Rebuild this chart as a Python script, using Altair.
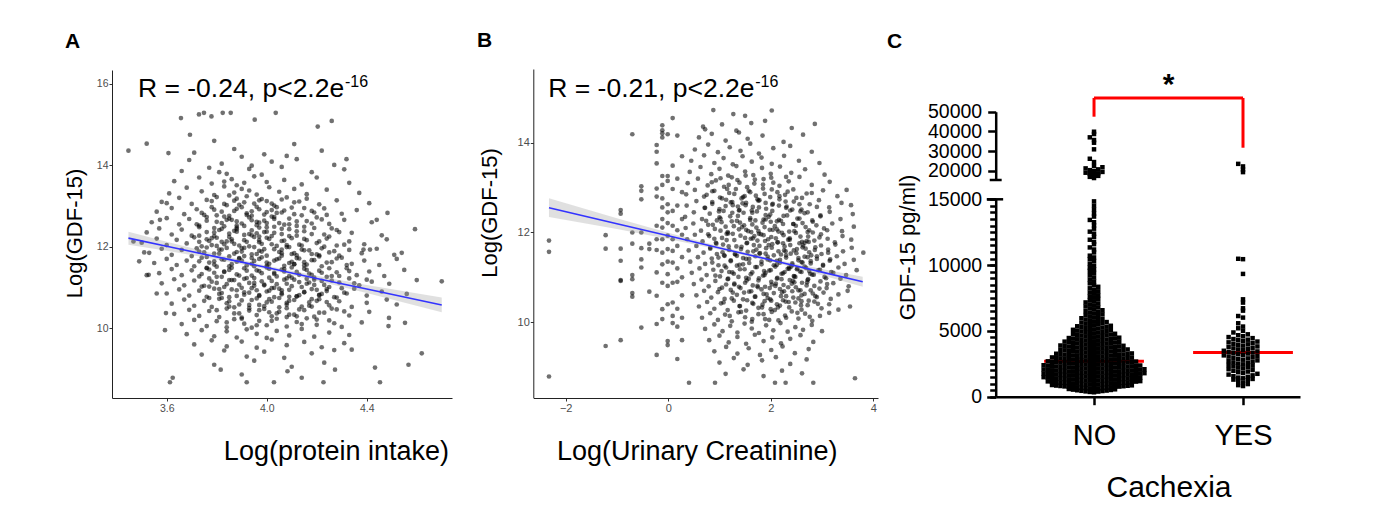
import altair as alt
import pandas as pd

FONT = "Liberation Sans"

# ---------------- Panel A : Log(protein intake) vs Log(GDF-15) ----------------
a_edge = [(3.447,14.36),(3.52,14.53),(3.613,8.67),(3.624,8.78),(3.657,15.16),(3.729,15.25),(3.749,15.29),
          (3.779,15.2),(3.824,15.29),(3.856,15.29),(3.952,15.12),(4.036,15.29),(4.204,14.95),(4.26,15.09),
          (4.319,14.15),(4.12,14.15),(4.593,12.43),(4.54,11.85),(4.70,11.15),(4.62,9.38),(4.567,9.1),
          (4.453,8.67),(4.433,9.03),(4.489,10.25),(4.487,10.05),(4.553,10.13),(4.52,10.58),(4.483,12.83),
          (4.44,12.66),(4.387,11.93),(4.413,11.93),(4.4,11.19),(3.593,9.95),(3.597,10.37),(3.56,10.85),
          (3.528,11.31),(3.51,11.86),(3.467,12.13),(3.573,12.66),(3.6,13.07),(3.607,14.3),(3.693,14.75),
          (3.816,8.98),(3.9,8.86),(3.92,8.67),(4.029,8.67),(4.083,8.94),(4.14,8.78),(4.227,8.67),
          (4.273,8.98),(4.34,9.47)]
a_hi = [(3.79,14.6),(4.11,14.52),(3.71,14.31),(3.87,14.4),(3.99,14.27),(4.22,14.36),
        (3.69,14.13),(3.82,14.04),(3.9,14.21),(4.02,14.09),(4.08,14.23),(4.27,14.01),(3.94,13.99),
        (3.66,13.86),(3.77,13.94),(3.84,13.79),(3.93,13.91),(3.98,13.77),(4.06,13.96),(4.18,13.83),(4.31,13.9),(3.81,13.83),
        (3.63,13.61),(3.73,13.7),(3.78,13.55),(3.86,13.66),(3.88,13.51),(3.95,13.73),(4.0,13.59),(4.07,13.64),
        (4.14,13.53),(4.2,13.7),(4.33,13.57),(3.83,13.6),(3.91,13.57),
        (3.61,13.31),(3.68,13.45),(3.74,13.36),(3.79,13.27),(3.83,13.48),(3.87,13.33),(3.9,13.42),(3.96,13.28),
        (4.01,13.46),(4.05,13.35),(4.11,13.42),(4.16,13.29),(4.24,13.4),(4.37,13.32),(3.93,13.38),(3.85,13.26),
        (3.58,13.1),(3.65,13.2),(3.7,13.05),(3.76,13.15),(3.8,13.22),(3.84,13.02),(3.87,13.13),(3.92,13.24),
        (3.95,13.06),(3.98,13.17),(4.03,13.01),(4.08,13.21),(4.11,13.09),(4.16,13.18),(4.21,13.04),(4.28,13.14),
        (4.41,13.07),(3.89,13.03),(4.0,13.12),
        (3.56,12.86),(3.62,12.95),(3.67,12.8),(3.72,12.92),(3.75,12.78),(3.78,12.97),(3.82,12.86),(3.85,12.76),
        (3.88,12.93),(3.92,12.82),(3.96,12.98),(3.99,12.79),(4.02,12.9),(4.06,12.84),(4.1,12.96),(4.14,12.77),
        (4.18,12.88),(4.23,12.94),(4.3,12.81),(4.36,12.9),(3.94,12.87),(3.8,12.77),(4.04,12.97),
        (3.54,12.6),(3.6,12.7),(3.65,12.55),(3.69,12.68),(3.73,12.52),(3.76,12.73),(3.8,12.61),(3.83,12.5),
        (3.86,12.66),(3.9,12.57),(3.93,12.72),(3.96,12.53),(3.99,12.64),(4.02,12.74),(4.05,12.58),(4.09,12.69),
        (4.12,12.51),(4.16,12.63),(4.2,12.72),(4.25,12.56),(4.31,12.66),(4.42,12.6),(3.88,12.62),(3.97,12.59),(4.07,12.54)]
a_mid = [(3.52,12.35),(3.57,12.45),(3.62,12.3),(3.66,12.42),(3.7,12.27),(3.73,12.48),(3.76,12.36),(3.79,12.26),
         (3.82,12.44),(3.85,12.32),(3.88,12.47),(3.91,12.29),(3.94,12.4),(3.97,12.25),(4.0,12.37),(4.03,12.49),
         (4.06,12.31),(4.09,12.43),(4.12,12.27),(4.15,12.38),(4.19,12.46),(4.23,12.3),(4.28,12.41),(4.34,12.34),
         (4.46,12.28),(3.87,12.39),(3.96,12.33),
         (3.5,12.1),(3.56,12.2),(3.6,12.04),(3.64,12.17),(3.68,12.08),(3.71,12.23),(3.74,12.01),(3.77,12.14),
         (3.8,12.22),(3.83,12.06),(3.86,12.18),(3.89,12.03),(3.92,12.12),(3.95,12.24),(3.98,12.07),(4.01,12.19),
         (4.04,12.02),(4.07,12.15),(4.1,12.21),(4.13,12.05),(4.16,12.16),(4.2,12.09),(4.24,12.2),(4.28,12.03),
         (4.33,12.13),(4.39,12.06),(4.48,12.18),(3.84,12.13),(3.97,12.16),
         (3.53,11.85),(3.58,11.95),(3.62,11.8),(3.66,11.92),(3.7,11.77),(3.73,11.88),(3.76,11.98),(3.79,11.83),
         (3.82,11.93),(3.85,11.76),(3.88,11.87),(3.91,11.97),(3.94,11.81),(3.97,11.9),(4.0,11.78),(4.03,11.94),
         (4.06,11.84),(4.09,11.99),(4.12,11.79),(4.15,11.91),(4.18,11.82),(4.22,11.96),(4.25,11.86),(4.29,11.78),
         (4.33,11.92),(4.38,11.84),(4.44,11.95),(4.51,11.8),
         (3.55,11.6),(3.6,11.7),(3.64,11.55),(3.68,11.66),(3.71,11.52),(3.74,11.73),(3.77,11.61),(3.8,11.51),
         (3.83,11.68),(3.86,11.57),(3.89,11.72),(3.92,11.54),(3.95,11.65),(3.98,11.74),(4.01,11.58),(4.04,11.69),
         (4.07,11.53),(4.1,11.63),(4.13,11.71),(4.16,11.56),(4.19,11.67),(4.22,11.52),(4.26,11.62),(4.3,11.73),
         (4.34,11.58),(4.39,11.66),(4.45,11.55),(4.52,11.7),(3.49,11.64),
         (3.57,11.35),(3.62,11.45),(3.66,11.3),(3.7,11.42),(3.73,11.27),(3.76,11.48),(3.79,11.36),(3.82,11.26),
         (3.85,11.43),(3.88,11.32),(3.91,11.47),(3.94,11.29),(3.97,11.4),(4.0,11.49),(4.03,11.33),(4.06,11.44),
         (4.09,11.28),(4.12,11.38),(4.15,11.46),(4.18,11.31),(4.21,11.41),(4.24,11.26),(4.28,11.37),(4.32,11.47),
         (4.36,11.3),(4.41,11.39),(4.47,11.28),(4.55,11.43),(3.52,11.3),
         (3.58,11.1),(3.63,11.2),(3.67,11.05),(3.71,11.17),(3.74,11.02),(3.77,11.22),(3.8,11.11),(3.83,11.01),
         (3.86,11.18),(3.89,11.07),(3.92,11.23),(3.95,11.04),(3.98,11.15),(4.01,11.24),(4.04,11.08),(4.07,11.19),
         (4.1,11.03),(4.13,11.13),(4.16,11.21),(4.19,11.06),(4.22,11.16),(4.25,11.01),(4.29,11.12),(4.33,11.22),
         (4.37,11.05),(4.42,11.14),(4.49,11.09),(4.6,11.18)]
a_lo = [(3.6,10.85),(3.65,10.95),(3.69,10.8),(3.73,10.92),(3.76,10.77),(3.79,10.97),(3.82,10.86),(3.85,10.76),
        (3.88,10.93),(3.91,10.82),(3.94,10.98),(3.97,10.79),(4.0,10.9),(4.03,10.99),(4.06,10.83),(4.09,10.94),
        (4.12,10.78),(4.15,10.88),(4.18,10.96),(4.21,10.81),(4.24,10.91),(4.27,10.76),(4.31,10.87),(4.35,10.97),
        (4.4,10.8),(4.46,10.9),(4.56,10.84),
        (3.62,10.6),(3.67,10.7),(3.71,10.55),(3.75,10.67),(3.78,10.52),(3.81,10.72),(3.84,10.61),(3.87,10.51),
        (3.9,10.68),(3.93,10.57),(3.96,10.73),(3.99,10.54),(4.02,10.65),(4.05,10.74),(4.08,10.58),(4.11,10.69),
        (4.14,10.53),(4.17,10.63),(4.21,10.71),(4.25,10.56),(4.29,10.66),(4.34,10.52),(4.4,10.62),(4.48,10.7),
        (3.63,10.35),(3.69,10.45),(3.73,10.3),(3.77,10.42),(3.81,10.27),(3.84,10.48),(3.87,10.36),(3.9,10.26),
        (3.93,10.43),(3.96,10.32),(3.99,10.47),(4.02,10.29),(4.05,10.4),(4.08,10.49),(4.11,10.33),(4.15,10.44),
        (4.19,10.28),(4.23,10.38),(4.28,10.46),(4.33,10.31),(4.41,10.4),
        (3.66,10.1),(3.71,10.2),(3.76,10.05),(3.8,10.17),(3.84,10.02),(3.87,10.22),(3.91,10.11),(3.94,10.01),
        (3.97,10.18),(4.0,10.07),(4.04,10.23),(4.08,10.04),(4.12,10.15),(4.16,10.24),(4.2,10.08),(4.25,10.19),
        (4.3,10.03),(4.38,10.14),
        (3.68,9.85),(3.74,9.95),(3.79,9.8),(3.84,9.92),(3.88,9.77),(3.92,9.97),(3.96,9.86),(4.0,9.76),
        (4.04,9.93),(4.09,9.82),(4.14,9.98),(4.19,9.79),(4.25,9.89),(4.33,9.83),
        (3.71,9.6),(3.78,9.7),(3.84,9.55),(3.9,9.67),(3.96,9.52),(4.02,9.72),(4.08,9.58),(4.15,9.66),(4.22,9.53),(4.31,9.63),
        (3.74,9.35),(3.83,9.45),(3.92,9.3),(3.99,9.42),(4.07,9.27),(4.18,9.38),(4.27,9.46),
        (3.79,9.1),(3.95,9.2),(4.1,9.05),(4.23,9.15)]
a_dense = [(3.81,12.41),(3.86,12.13),(3.9,11.96),(3.93,12.31),(3.98,11.88),(4.02,12.26),(4.05,11.71),(4.08,12.04),
           (4.11,11.57),(4.14,11.93),(4.17,11.34),(4.21,11.76),(3.79,11.64),(3.83,11.39),(3.87,11.83),(3.91,11.21),
           (3.95,11.52),(3.99,11.07),(4.03,11.36),(4.06,10.93),(4.1,11.24),(4.13,10.81),(4.16,11.09),(4.2,10.67),
           (4.24,10.96),(3.77,11.02),(3.82,10.74),(3.85,11.18),(3.89,10.58),(3.93,10.87),(3.97,10.44),(4.01,10.71),
           (4.04,10.36),(4.08,10.62),(4.12,10.29),(4.18,10.53),(3.84,12.66),(3.88,12.52),(3.92,12.78),(3.96,12.61),
           (4.0,12.48),(4.04,12.83),(3.8,12.02),(3.94,11.72),(4.0,11.61),(4.07,11.45),(4.15,11.62),(4.19,11.19),
           (3.76,11.47),(3.81,11.93),(3.95,11.11),(4.02,10.98),(4.09,10.77),(4.22,10.84),(3.86,10.95),(3.9,11.66),
           (4.1,11.82),(4.26,11.28),(3.73,12.12),(3.99,12.36)]
a_core = [(3.78,13.12),(3.83,13.05),(3.88,13.18),(3.91,13.09),(3.97,13.14),(4.02,13.06),(4.06,13.16),(4.13,13.11),
          (3.74,12.83),(3.79,12.91),(3.83,12.74),(3.87,12.88),(3.9,12.97),(3.94,12.76),(3.97,12.92),(4.0,12.85),
          (4.03,12.73),(4.07,12.89),(4.11,12.8),(4.15,12.95),(4.19,12.84),(4.24,12.78),
          (3.72,12.55),(3.76,12.64),(3.79,12.46),(3.82,12.58),(3.85,12.69),(3.88,12.43),(3.91,12.51),(3.94,12.65),
          (3.97,12.47),(4.0,12.58),(4.03,12.68),(4.06,12.44),(4.09,12.55),(4.12,12.62),(4.15,12.49),(4.18,12.57),
          (4.22,12.67),(4.26,12.45),
          (3.73,12.27),(3.76,12.18),(3.79,12.35),(3.82,12.12),(3.85,12.24),(3.88,12.37),(3.91,12.16),(3.94,12.28),
          (3.97,12.11),(4.0,12.22),(4.03,12.34),(4.06,12.14),(4.09,12.26),(4.12,12.38),(4.15,12.19),(4.18,12.31),
          (4.21,12.13),(4.25,12.25),(4.29,12.36),(3.78,12.21),
          (3.72,11.96),(3.75,11.86),(3.78,12.04),(3.81,11.83),(3.84,11.97),(3.87,12.07),(3.9,11.88),(3.93,12.01),
          (3.96,11.82),(3.99,11.94),(4.02,12.06),(4.05,11.87),(4.08,11.99),(4.11,11.84),(4.14,12.03),(4.17,11.91),
          (4.2,11.81),(4.23,12.0),(4.27,11.89),(4.31,12.05),(3.95,11.99),(4.06,11.93),
          (3.73,11.64),(3.76,11.75),(3.79,11.56),(3.82,11.69),(3.85,11.52),(3.88,11.63),(3.91,11.77),(3.94,11.58),
          (3.97,11.7),(4.0,11.53),(4.03,11.66),(4.06,11.78),(4.09,11.6),(4.12,11.72),(4.15,11.54),(4.18,11.67),
          (4.21,11.79),(4.24,11.61),(4.28,11.71),(4.32,11.55),(3.89,11.71),(4.11,11.57),
          (3.74,11.33),(3.77,11.44),(3.8,11.26),(3.83,11.38),(3.86,11.48),(3.89,11.29),(3.92,11.41),(3.95,11.23),
          (3.98,11.35),(4.01,11.46),(4.04,11.27),(4.07,11.39),(4.1,11.49),(4.13,11.31),(4.16,11.43),(4.19,11.24),
          (4.22,11.36),(4.25,11.47),(4.29,11.28),(4.33,11.4),(3.96,11.42),(4.08,11.22),
          (3.75,11.04),(3.78,11.14),(3.81,10.96),(3.84,11.08),(3.87,11.18),(3.9,10.99),(3.93,11.11),(3.96,10.93),
          (3.99,11.05),(4.02,11.16),(4.05,10.97),(4.08,11.09),(4.11,11.19),(4.14,11.01),(4.17,11.12),(4.2,10.94),
          (4.23,11.06),(4.26,11.17),(4.3,10.98),(4.35,11.1),(4.01,10.92),
          (3.77,10.74),(3.81,10.84),(3.85,10.66),(3.88,10.79),(3.91,10.88),(3.94,10.69),(3.97,10.81),(4.0,10.63),
          (4.03,10.76),(4.06,10.86),(4.09,10.67),(4.12,10.78),(4.15,10.89),(4.18,10.71),(4.21,10.82),(4.24,10.64),
          (4.28,10.75),(4.32,10.85),
          (3.8,10.44),(3.85,10.53),(3.89,10.36),(3.93,10.49),(3.97,10.57),(4.01,10.39),(4.05,10.51),(4.09,10.33),
          (4.13,10.46),(4.17,10.55),(4.21,10.38),(4.26,10.48),(4.31,10.41),
          (3.84,10.14),(3.9,10.23),(3.96,10.07),(4.02,10.18),(4.08,10.27),(4.14,10.1),(4.2,10.21),(4.27,10.12)]
# fitted line and 95% band
a_fit_x = [3.447, 3.6, 3.8, 4.0, 4.2, 4.4, 4.70]
a_fit_y = [12.21, 12.01, 11.75, 11.49, 11.22, 10.96, 10.57]
a_ci_lo = [12.05, 11.90, 11.685, 11.445, 11.165, 10.86, 10.39]
a_ci_hi = [12.37, 12.12, 11.815, 11.535, 11.285, 11.06, 10.75]
a_note_x, a_note_y = [3.485], [15.685]
a_xticks = [3.6, 4.0, 4.4]
a_yticks = [10, 12, 14, 16]

# ---------------- Panel B : Log(Urinary Creatinine) vs Log(GDF-15) ----------------
b_cols = [(-2.325,11.82),(-2.325,11.57),(-2.325,8.79),
          (-1.22,11.94),(-1.22,11.64),(-1.22,9.47),
          (-0.927,12.5),(-0.927,12.42),(-0.927,11.64),(-0.927,11.37),(-0.927,10.94),(-0.927,10.92),(-0.927,9.6),
          (-0.70,14.19),(-0.70,12.0),(-0.70,11.75),(-0.70,11.05),(-0.70,10.96),(-0.70,10.65),(-0.70,10.57),
          (-0.524,13.03),(-0.524,12.93),(-0.524,12.74),(-0.524,12.0),(-0.524,11.65),(-0.524,11.4),(-0.524,11.22),(-0.524,9.88),
          (-0.368,11.75),(-0.368,11.63),(-0.368,10.68),
          (-0.225,13.95),(-0.225,13.8),(-0.225,13.54),(-0.225,12.98),(-0.225,12.8),(-0.225,12.15),(-0.225,11.85),
          (-0.225,11.61),(-0.225,11.11),(-0.225,10.59),(-0.225,9.96),(-0.225,9.27),
          (-0.115,14.39),(-0.115,14.28),(-0.115,14.21),(-0.115,14.12),(-0.115,13.26),(-0.115,13.06),(-0.115,12.76),
          (-0.115,12.56),(-0.115,12.3),(-0.115,12.11),(-0.115,11.85),(-0.115,11.55),(-0.115,11.29),(-0.115,10.88),
          (-0.115,10.29),(-0.115,10.07),
          (-0.01,14.19),(-0.01,13.26),(-0.01,13.15),(-0.01,12.63),(-0.01,12.45),(-0.01,12.21),(-0.01,11.93),
          (-0.01,11.63),(-0.01,11.35),(-0.01,11.07),(-0.01,10.81),(-0.01,10.4),(-0.01,9.58),(-0.01,9.49),
          (0.087,14.55),(0.087,13.49),(0.087,12.97),(0.087,12.48),(0.087,12.15),(0.087,11.85),(0.087,11.59),
          (0.087,11.33),(0.087,10.88),(0.087,10.44),(0.087,10.14),(0.087,9.98),
          (0.178,14.16),(0.178,13.2),(0.178,12.6),(0.178,12.05),(0.178,11.7),(0.178,11.2),(0.178,10.9),
          (0.178,10.3),(0.178,9.9),(0.178,9.18),
          (0.27,13.7),(0.27,12.9),(0.27,12.3),(0.27,11.95),(0.27,11.45),(0.27,11.0),(0.27,10.6),(0.27,10.1),(0.27,9.6)]
b_edge = [(3.643,8.75),(0.406,8.65),(0.913,8.65),(2.083,8.65),(2.29,8.65),(2.83,8.65),
          (3.806,11.55),(3.676,11.16),(3.566,12.61),(3.48,12.95),(3.546,10.35),
          (0.88,14.73),(1.27,14.64),(2.02,14.72),(1.5,14.6),(2.86,14.42),(1.89,14.49),(0.68,14.36)]
b_hi = [(0.72,14.3),(1.05,14.41),(1.33,14.27),(1.62,14.44),(2.41,14.33),
        (0.6,14.12),(0.85,14.2),(1.12,14.05),(1.38,14.23),(1.55,14.09),(1.84,14.16),(2.25,14.02),(2.63,14.18),
        (0.52,13.85),(0.78,13.96),(0.97,13.79),(1.2,13.9),(1.41,13.82),(1.6,13.98),(1.77,13.76),(2.05,13.88),(2.38,13.93),(2.8,13.8),
        (0.45,13.6),(0.7,13.72),(0.9,13.55),(1.08,13.66),(1.26,13.52),(1.45,13.7),(1.63,13.58),(1.82,13.67),
        (2.02,13.53),(2.26,13.71),(2.55,13.6),(2.95,13.55),
        (0.42,13.35),(0.63,13.46),(0.84,13.3),(1.0,13.42),(1.17,13.27),(1.33,13.48),(1.5,13.36),(1.66,13.28),
        (1.83,13.44),(2.0,13.31),(2.18,13.47),(2.4,13.33),(2.67,13.41),(3.05,13.29),
        (0.38,13.1),(0.58,13.2),(0.77,13.05),(0.93,13.16),(1.09,13.02),(1.24,13.23),(1.39,13.11),(1.54,13.01),
        (1.69,13.18),(1.85,13.07),(2.01,13.22),(2.17,13.04),(2.35,13.14),(2.56,13.24),(2.8,13.06),(3.15,13.13),
        (0.35,12.85),(0.52,12.95),(0.7,12.8),(0.86,12.92),(1.01,12.78),(1.15,12.97),(1.29,12.86),(1.43,12.76),
        (1.57,12.93),(1.71,12.82),(1.85,12.98),(1.99,12.79),(2.13,12.9),(2.28,12.84),(2.44,12.96),(2.61,12.77),
        (2.8,12.88),(3.02,12.94),(3.3,12.81),
        (0.36,12.6),(0.55,12.7),(0.71,12.55),(0.86,12.68),(1.0,12.52),(1.13,12.73),(1.26,12.61),(1.39,12.5),
        (1.52,12.66),(1.65,12.57),(1.78,12.72),(1.91,12.53),(2.04,12.64),(2.17,12.74),(2.31,12.58),(2.45,12.69),
        (2.6,12.51),(2.76,12.63),(2.94,12.72),(3.14,12.56),(3.38,12.66)]
b_mid = [(0.33,12.35),(0.5,12.45),(0.66,12.3),(0.81,12.42),(0.95,12.27),(1.08,12.48),(1.21,12.36),(1.34,12.26),
         (1.47,12.44),(1.6,12.32),(1.73,12.47),(1.86,12.29),(1.99,12.4),(2.12,12.25),(2.25,12.37),(2.38,12.49),
         (2.52,12.31),(2.66,12.43),(2.81,12.27),(2.97,12.38),(3.15,12.46),(3.36,12.3),(3.6,12.41),
         (0.34,12.1),(0.49,12.2),(0.64,12.04),(0.78,12.17),(0.91,12.08),(1.04,12.23),(1.16,12.01),(1.28,12.14),
         (1.4,12.22),(1.52,12.06),(1.64,12.18),(1.76,12.03),(1.88,12.12),(2.0,12.24),(2.12,12.07),(2.24,12.19),
         (2.36,12.02),(2.49,12.15),(2.62,12.21),(2.75,12.05),(2.89,12.16),(3.04,12.09),(3.2,12.2),(3.39,12.03),(3.62,12.13),
         (0.37,11.85),(0.52,11.95),(0.67,11.8),(0.8,11.92),(0.93,11.77),(1.05,11.88),(1.17,11.98),(1.29,11.83),
         (1.41,11.93),(1.53,11.76),(1.65,11.87),(1.77,11.97),(1.89,11.81),(2.01,11.9),(2.13,11.78),(2.25,11.94),
         (2.37,11.84),(2.49,11.99),(2.61,11.79),(2.73,11.91),(2.85,11.82),(2.98,11.96),(3.11,11.86),(3.25,11.78),
         (3.4,11.92),(3.57,11.84),(1.95,11.85),
         (0.4,11.6),(0.55,11.7),(0.69,11.55),(0.82,11.66),(0.95,11.52),(1.07,11.73),(1.19,11.61),(1.31,11.51),
         (1.43,11.68),(1.55,11.57),(1.67,11.72),(1.79,11.54),(1.91,11.65),(2.03,11.74),(2.15,11.58),(2.27,11.69),
         (2.39,11.53),(2.51,11.63),(2.63,11.71),(2.75,11.56),(2.87,11.67),(2.99,11.52),(3.12,11.62),(3.26,11.73),
         (3.41,11.58),(3.58,11.66),(1.72,11.62),(2.45,11.6),
         (0.43,11.35),(0.58,11.45),(0.72,11.3),(0.85,11.42),(0.98,11.27),(1.1,11.48),(1.22,11.36),(1.34,11.26),
         (1.46,11.43),(1.58,11.32),(1.7,11.47),(1.82,11.29),(1.94,11.4),(2.06,11.49),(2.18,11.33),(2.3,11.44),
         (2.42,11.28),(2.54,11.38),(2.66,11.46),(2.78,11.31),(2.9,11.41),(3.02,11.26),(3.15,11.37),(3.29,11.47),
         (3.44,11.3),(3.62,11.39),(2.12,11.37),(2.6,11.34),
         (0.46,11.1),(0.61,11.2),(0.75,11.05),(0.88,11.17),(1.01,11.02),(1.13,11.22),(1.25,11.11),(1.37,11.01),
         (1.49,11.18),(1.61,11.07),(1.73,11.23),(1.85,11.04),(1.97,11.15),(2.09,11.24),(2.21,11.08),(2.33,11.19),
         (2.45,11.03),(2.57,11.13),(2.69,11.21),(2.81,11.06),(2.93,11.16),(3.05,11.01),(3.18,11.12),(3.32,11.22),
         (3.47,11.05),(2.27,11.12),(2.75,11.14),(1.9,11.1)]
b_lo = [(0.5,10.85),(0.65,10.95),(0.79,10.8),(0.92,10.92),(1.05,10.77),(1.17,10.97),(1.29,10.86),(1.41,10.76),
        (1.53,10.93),(1.65,10.82),(1.77,10.98),(1.89,10.79),(2.01,10.9),(2.13,10.99),(2.25,10.83),(2.37,10.94),
        (2.49,10.78),(2.61,10.88),(2.73,10.96),(2.85,10.81),(2.97,10.91),(3.09,10.76),(3.22,10.87),(3.36,10.97),
        (3.52,10.8),(2.41,10.86),(2.02,10.84),
        (0.55,10.6),(0.7,10.7),(0.84,10.55),(0.97,10.67),(1.1,10.52),(1.22,10.72),(1.34,10.61),(1.46,10.51),
        (1.58,10.68),(1.7,10.57),(1.82,10.73),(1.94,10.54),(2.06,10.65),(2.18,10.74),(2.3,10.58),(2.42,10.69),
        (2.54,10.53),(2.66,10.63),(2.78,10.71),(2.9,10.56),(3.03,10.66),(3.17,10.52),(3.32,10.62),(3.5,10.7),(2.6,10.6),
        (0.6,10.35),(0.76,10.45),(0.9,10.3),(1.03,10.42),(1.16,10.27),(1.28,10.48),(1.4,10.36),(1.52,10.26),
        (1.64,10.43),(1.76,10.32),(1.88,10.47),(2.0,10.29),(2.12,10.4),(2.24,10.49),(2.36,10.33),(2.48,10.44),
        (2.6,10.28),(2.72,10.38),(2.85,10.46),(2.99,10.31),(3.14,10.4),(3.32,10.28),
        (0.66,10.1),(0.82,10.2),(0.97,10.05),(1.11,10.17),(1.24,10.02),(1.37,10.22),(1.5,10.11),(1.63,10.01),
        (1.76,10.18),(1.89,10.07),(2.02,10.23),(2.15,10.04),(2.28,10.15),(2.41,10.24),(2.54,10.08),(2.67,10.19),
        (2.81,10.03),(2.96,10.14),(3.14,10.21),
        (0.72,9.85),(0.9,9.95),(1.06,9.8),(1.21,9.92),(1.35,9.77),(1.49,9.97),(1.63,9.86),(1.77,9.76),
        (1.91,9.93),(2.05,9.82),(2.19,9.98),(2.33,9.79),(2.48,9.89),(2.63,9.83),(2.8,9.94),(3.0,9.8),
        (0.8,9.6),(1.0,9.7),(1.18,9.55),(1.35,9.67),(1.52,9.52),(1.69,9.72),(1.86,9.58),(2.03,9.66),
        (2.2,9.53),(2.38,9.63),(2.58,9.71),(2.83,9.56),
        (0.9,9.35),(1.13,9.45),(1.35,9.3),(1.57,9.42),(1.79,9.27),(2.01,9.38),(2.23,9.46),(2.47,9.31),(2.74,9.4),
        (1.0,9.1),(1.28,9.2),(1.55,9.05),(1.83,9.15),(2.1,9.22),(2.38,9.07),(2.7,9.17),
        (1.12,8.85),(1.47,8.95),(1.86,8.8),(2.22,8.92),(2.61,8.86)]
b_dense = [(1.02,12.31),(1.14,11.97),(1.25,12.44),(1.33,11.69),(1.44,12.12),(1.52,11.41),(1.61,11.86),(1.7,12.27),
           (1.78,11.53),(1.87,11.14),(1.96,11.72),(2.04,12.06),(2.12,11.28),(2.21,10.96),(2.29,11.58),(2.37,11.87),
           (2.46,11.02),(2.54,10.71),(2.62,11.33),(2.71,10.89),(2.79,11.49),(2.87,10.58),(1.09,11.49),(1.19,11.12),
           (1.29,10.84),(1.39,11.28),(1.48,10.66),(1.57,10.97),(1.66,10.41),(1.75,10.78),(1.83,10.33),(1.92,10.62),
           (2.01,10.48),(2.09,10.81),(2.18,10.37),(2.26,10.69),(2.35,10.45),(2.43,10.92),(2.51,11.18),(2.6,10.47),
           (2.68,11.64),(2.77,11.08),(1.22,12.67),(1.36,12.58),(1.49,12.81),(1.63,12.49),(1.76,12.71),(1.9,12.39),
           (2.03,12.62),(2.16,12.28),(2.3,12.55),(2.44,12.19),(2.58,12.47),(2.72,12.01),(1.81,11.96),(1.99,11.38),
           (2.24,11.76),(2.4,11.24),(1.56,12.03),(2.66,11.77)]
b_core = [(0.85,13.12),(1.02,13.21),(1.18,13.06),(1.35,13.17),(1.51,13.27),(1.68,13.09),(1.86,13.19),(2.05,13.11),(2.3,13.24),
          (0.75,12.84),(0.9,12.93),(1.05,12.76),(1.19,12.88),(1.32,12.97),(1.46,12.79),(1.6,12.9),(1.74,12.74),
          (1.88,12.86),(2.02,12.96),(2.17,12.81),(2.33,12.91),(2.5,12.77),(2.7,12.87),
          (0.72,12.55),(0.86,12.64),(0.99,12.47),(1.12,12.59),(1.25,12.68),(1.38,12.49),(1.51,12.61),(1.64,12.44),
          (1.77,12.56),(1.9,12.66),(2.03,12.48),(2.16,12.6),(2.29,12.69),(2.42,12.51),(2.56,12.63),(2.72,12.45),
          (2.9,12.57),(1.45,12.65),
          (0.74,12.26),(0.87,12.17),(1.0,12.34),(1.12,12.13),(1.24,12.25),(1.36,12.37),(1.48,12.16),(1.6,12.28),
          (1.72,12.11),(1.84,12.22),(1.96,12.35),(2.08,12.14),(2.2,12.26),(2.32,12.38),(2.44,12.19),(2.56,12.31),
          (2.68,12.12),(2.82,12.24),(2.97,12.36),(1.9,12.29),
          (0.78,11.96),(0.9,11.86),(1.02,12.04),(1.14,11.83),(1.26,11.97),(1.38,12.07),(1.5,11.88),(1.62,12.01),
          (1.74,11.82),(1.86,11.94),(1.98,12.06),(2.1,11.87),(2.22,11.99),(2.34,11.84),(2.46,12.03),(2.58,11.91),
          (2.7,11.81),(2.82,12.0),(2.95,11.89),(3.1,12.05),(2.15,12.02),(1.68,11.92),
          (0.82,11.64),(0.94,11.75),(1.06,11.56),(1.18,11.69),(1.3,11.52),(1.42,11.63),(1.54,11.77),(1.66,11.58),
          (1.78,11.7),(1.9,11.53),(2.02,11.66),(2.14,11.78),(2.26,11.6),(2.38,11.72),(2.5,11.54),(2.62,11.67),
          (2.74,11.79),(2.86,11.61),(2.98,11.71),(3.12,11.55),(2.2,11.51),(2.56,11.76),
          (0.86,11.33),(0.98,11.44),(1.1,11.26),(1.22,11.38),(1.34,11.48),(1.46,11.29),(1.58,11.41),(1.7,11.23),
          (1.82,11.35),(1.94,11.46),(2.06,11.27),(2.18,11.39),(2.3,11.49),(2.42,11.31),(2.54,11.43),(2.66,11.24),
          (2.78,11.36),(2.9,11.47),(3.02,11.28),(3.16,11.4),(2.36,11.22),(2.72,11.45),
          (0.92,11.04),(1.04,11.14),(1.16,10.96),(1.28,11.08),(1.4,11.18),(1.52,10.99),(1.64,11.11),(1.76,10.93),
          (1.88,11.05),(2.0,11.16),(2.12,10.97),(2.24,11.09),(2.36,11.19),(2.48,11.01),(2.6,11.12),(2.72,10.94),
          (2.84,11.06),(2.96,11.17),(3.08,10.98),(3.22,11.1),(2.52,11.2),
          (1.0,10.74),(1.13,10.84),(1.26,10.66),(1.38,10.79),(1.5,10.88),(1.62,10.69),(1.74,10.81),(1.86,10.63),
          (1.98,10.76),(2.1,10.86),(2.22,10.67),(2.34,10.78),(2.46,10.89),(2.58,10.71),(2.7,10.82),(2.82,10.64),
          (2.95,10.75),(3.1,10.85),
          (1.08,10.44),(1.24,10.53),(1.39,10.36),(1.54,10.49),(1.69,10.57),(1.84,10.39),(1.99,10.51),(2.14,10.33),
          (2.29,10.46),(2.44,10.55),(2.59,10.38),(2.74,10.48),(2.92,10.41),(2.2,10.58),
          (1.2,10.14),(1.42,10.23),(1.64,10.07),(1.86,10.18),(2.08,10.27),(2.3,10.1),(2.52,10.21),(2.76,10.12),(1.97,10.05)]
b_fit_x = [-2.325, -1.0, 0.0, 1.0, 2.0, 3.0, 3.794]
b_fit_y = [12.553, 12.196, 11.926, 11.656, 11.387, 11.117, 10.903]
b_ci_lo = [12.343, 12.076, 11.856, 11.616, 11.352, 11.047, 10.793]
b_ci_hi = [12.763, 12.316, 11.996, 11.696, 11.422, 11.187, 11.013]
b_note_x, b_note_y = [-2.339], [15.028]
b_xticks = [-2, 0, 2, 4]
b_yticks = [10, 12, 14]

# ---------------- Panel C : GDF-15 by cachexia ----------------
c_no_low = [335, 362, 388, 404, 431, 447, 466, 489, 512, 538, 561, 587,
            604, 619, 633, 648, 657, 671, 688, 702, 715, 729, 744, 752, 768, 781, 796, 812, 829, 846, 863, 887,
            903, 915, 927, 938, 949, 961, 972, 986, 995, 1008, 1019, 1031, 1044, 1052, 1067, 1078, 1089, 1101, 1117, 1128, 1146, 1163, 1184,
            1203, 1214, 1226, 1235, 1247, 1258, 1269, 1281, 1290, 1302, 1314, 1323, 1336, 1348, 1357, 1369, 1380, 1392, 1405, 1418, 1431, 1447, 1462, 1485,
            1506, 1515, 1527, 1538, 1546, 1559, 1567, 1579, 1590, 1601, 1612, 1624, 1633, 1645, 1656, 1664, 1677, 1688, 1697, 1709, 1722, 1736, 1751, 1768, 1789,
            1803, 1812, 1824, 1833, 1845, 1856, 1864, 1877, 1886, 1898, 1907, 1919, 1928, 1940, 1951, 1962, 1973, 1984, 1996, 2008, 2021, 2037, 2052, 2069, 2088,
            2104, 2115, 2127, 2139, 2148, 2160, 2171, 2183, 2192, 2204, 2216, 2227, 2238, 2249, 2261, 2273, 2284, 2296, 2309, 2322, 2338, 2355, 2371, 2392,
            2406, 2418, 2431, 2443, 2455, 2467, 2478, 2491, 2503, 2516, 2528, 2539, 2551, 2564, 2577, 2589, 2602, 2617, 2633, 2651, 2668, 2689,
            2708, 2721, 2735, 2748, 2762, 2774, 2789, 2801, 2815, 2829, 2842, 2856, 2869, 2883, 2898, 2913, 2929, 2946, 2964, 2985,
            3007, 3021, 3036, 3050, 3064, 3079, 3093, 3108, 3122, 3137, 3151, 3166, 3180, 3195, 3211, 3228, 3246, 3265, 3288,
            3309, 3325, 3341, 3357, 3373, 3389, 3405, 3421, 3438, 3454, 3471, 3488, 3506, 3525, 3545, 3566, 3589,
            3611, 3628, 3645, 3663, 3680, 3698, 3716, 3733, 3751, 3769, 3788, 3807, 3827, 3847, 3868, 3891,
            3912, 3931, 3951, 3970, 3990, 4010, 4031, 4051, 4072, 4093, 4115, 4137, 4160, 4185,
            4211, 4232, 4254, 4275, 4297, 4319, 4341, 4364, 4387, 4410, 4434, 4458, 4484,
            4512, 4537, 4562, 4588, 4614, 4640, 4667, 4694, 4722, 4751, 4781,
            4813, 4841, 4869, 4898, 4927, 4957, 4987, 5018, 5050, 5083,
            5116, 5148, 5181, 5214, 5248, 5282, 5317, 5352, 5389,
            5427, 5466, 5506, 5546, 5587, 5629, 5672,
            5718, 5765, 5813, 5862, 5912, 5963,
            6021, 6079, 6138, 6198, 6259, 6327, 6386, 6446, 6507, 6569,
            6641, 6712, 6784, 6857, 6938, 7012, 7087, 7163,
            7251, 7339, 7428, 7532, 7618, 7705, 7824, 7916, 8010, 8127, 8238, 8351,
            8478, 8612, 8756, 8903, 9064, 9232, 9408, 9561, 9677, 9812, 9958, 10104,
            10311, 10452, 10583, 10716, 10962, 11185, 11342, 11590, 11763, 11928, 12147,
            12389, 12541, 12768, 13012, 13256, 13431, 13688, 13917, 14206, 14512, 14843]
c_no_high = [16300, 16900, 17400, 17900, 18400, 18700, 19000, 19400, 19800, 20300, 20700, 21200, 21800,
             22390, 24420, 26100, 30880, 34240, 35610, 36980, 38660, 39830]
c_yes_low = [10480, 10450, 9330, 7400, 7150, 6720, 6540, 6130, 6010, 5580, 5330, 5200,
             4740, 4880, 5010, 4380, 4450, 4530, 4600, 4670,
             4020, 4080, 4130, 4190, 4240, 4290, 4330,
             3670, 3720, 3770, 3820, 3880, 3930, 3980,
             3310, 3350, 3390, 3440, 3490, 3540, 3590, 3630,
             2960, 3000, 3050, 3090, 3140, 3180, 3230, 3280,
             2610, 2660, 2710, 2760, 2810, 2860, 2910,
             2260, 2310, 2360, 2410, 2460, 2510, 2560,
             1910, 1970, 2030, 2090, 2150, 2210,
             1560, 1620, 1680, 1740, 1800, 1860,
             1210, 1250, 1300, 1350, 1400, 1450, 1510,
             880, 960, 1080, 810]
c_yes_high = [19300, 20600, 22200, 23500]
c_groups = [0, 1]
c_group_names = ["NO", "YES"]
c_medians = [2700, 3350]
c_sig_top = 57000
c_sig_legs = [47460, 31700]
c_upper_ticks = [20000, 30000, 40000, 50000]
c_major_ticks = [0, 5000, 10000, 15000]
c_minor_ticks = list(range(0, 15001, 500))

# ---------------- scales (pixel ranges inside the 1376 x 390 frame) ----------------
def lin(domain, rng):
    return alt.Scale(domain=domain, range=rng, nice=False, zero=False)

A_X = lin([3.3812, 4.741], [104, 444])
A_Y = lin([8.283, 16.341], [390, 62])
B_X = lin([-2.631, 4.092], [525.3, 870])
B_Y = lin([8.317, 15.645], [389.7, 61])
C_X = lin([-0.66, 1.3826], [987.7, 1292])
C_UP = lin([15300, 50000], [172, 103.7])
C_LO = lin([0, 15000], [388.7, 191.3])


def gg_axis(values, fmt, size, pad, **kw):
    return alt.Axis(values=values, format=fmt, grid=False, domainColor="#222", domainWidth=1,
                    tickColor="#333", tickSize=3, tickWidth=1, labelColor="#4d4d4d",
                    labelFont=FONT, labelFontSize=size, labelPadding=pad, titleFont=FONT,
                    titleColor="black", titleFontWeight="normal", **kw)


def scatter_panel(points, fit_x, fit_y, lo, hi, note_x, note_y, note, sx, sy, xaxis, yaxis):
    df = pd.DataFrame(points, columns=["x", "y"])
    fit = pd.DataFrame({"x": fit_x, "y": fit_y, "lo": lo, "hi": hi})
    nd = pd.DataFrame({"x": note_x, "y": note_y, "t": [note], "s": ["-16"]})
    pts = alt.Chart(df).mark_circle(size=22, color="black", opacity=0.56).encode(
        x=alt.X("x:Q", scale=sx, axis=xaxis), y=alt.Y("y:Q", scale=sy, axis=yaxis))
    band = alt.Chart(fit).mark_area(color="#999999", opacity=0.3).encode(
        x=alt.X("x:Q", scale=sx, axis=None), y=alt.Y("lo:Q", scale=sy, axis=None), y2="hi:Q")
    line = alt.Chart(fit).mark_line(color="#3333ff", strokeWidth=1.6).encode(
        x=alt.X("x:Q", scale=sx, axis=None), y=alt.Y("y:Q", scale=sy, axis=None))
    txt = alt.Chart(nd).mark_text(align="left", baseline="alphabetic", font=FONT, fontSize=26.5,
                                  color="black").encode(
        x=alt.X("x:Q", scale=sx, axis=None), y=alt.Y("y:Q", scale=sy, axis=None), text="t:N")
    sup = alt.Chart(nd).mark_text(align="left", baseline="alphabetic", font=FONT, fontSize=16,
                                  color="black", dx=207, dy=-9.5).encode(
        x=alt.X("x:Q", scale=sx, axis=None), y=alt.Y("y:Q", scale=sy, axis=None), text="s:N")
    return [pts, band, line, txt, sup]


layers = []
layers += scatter_panel(
    a_edge + a_hi + a_mid + a_lo + a_dense + a_core, a_fit_x, a_fit_y, a_ci_lo, a_ci_hi,
    a_note_x, a_note_y, "R = -0.24, p<2.2e", A_X, A_Y,
    gg_axis(a_xticks, ".1f", 10.5, 2, orient="bottom", title="Log(protein intake)", titleFontSize=27,
            titleX=440.5, titleY=61, titleAlign="right", titleBaseline="alphabetic"),
    gg_axis(a_yticks, "d", 10.5, 1, orient="left", title="Log(GDF-15)", titleFontSize=22, titleX=-31,
            titleY=225, titleAngle=270, titleAlign="center", titleBaseline="alphabetic", offset=-104))
layers += scatter_panel(
    b_cols + b_edge + b_hi + b_mid + b_lo + b_dense + b_core, b_fit_x, b_fit_y, b_ci_lo, b_ci_hi,
    b_note_x, b_note_y, "R = -0.21, p<2.2e", B_X, B_Y,
    gg_axis(b_xticks, "d", 11, 1, orient="bottom", title="Log(Urinary Creatinine)", titleFontSize=27,
            titleX=688.7, titleY=61, titleAlign="center", titleBaseline="alphabetic"),
    gg_axis(b_yticks, "d", 11, 1, orient="left", title="Log(GDF-15)", titleFontSize=22, titleX=-37.3,
            titleY=204.5, titleAngle=270, titleAlign="center", titleBaseline="alphabetic", offset=-525.3))

# --- panel C data tables ---
low_df = pd.DataFrame({"v": c_no_low + c_yes_low,
                       "g": [0] * len(c_no_low) + [1] * len(c_yes_low)})
high_df = pd.DataFrame({"v": c_no_high + c_yes_high,
                        "g": [0] * len(c_no_high) + [1] * len(c_yes_high)})
med_df = pd.DataFrame({"g": c_groups, "m": c_medians})
sig_h = pd.DataFrame({"a": [c_groups[0]], "b": [c_groups[1]], "y": [c_sig_top]})
sig_v = pd.DataFrame({"g": c_groups, "y": c_sig_legs, "top": [c_sig_top, c_sig_top]})
star = pd.DataFrame({"x": [0.5], "y": [c_sig_top], "t": ["*"]})
brk_up = pd.DataFrame({"a": [-0.70], "b": [-0.62], "y": [15300]})
brk_lo = pd.DataFrame({"a": [-0.72], "b": [-0.61], "y": [15000]})

STEP = "(datum.g == 0 ? 0.0282 : 0.0322)"
OFF = "(datum.k % 2 == 0 ? -1 : 1) * floor(datum.k / 2)"


def swarm(df, bin_expr):
    return (alt.Chart(df)
            .transform_calculate(bin=bin_expr)
            .transform_window(k="row_number()", groupby=["g", "bin"],
                              sort=[alt.SortField("v", order="ascending")])
            .transform_calculate(xs="datum.g + " + OFF + " * " + STEP))


c_minor_axis = alt.Axis(orient="left", values=c_minor_ticks, labels=False, grid=False, domainColor="black",
                        domainWidth=2.5, tickColor="black", tickWidth=2.5, tickSize=6, title=None,
                        offset=-987.7)
c_major_axis = alt.Axis(orient="left", values=c_major_ticks, format="d", domain=False, grid=False,
                        tickColor="black", tickWidth=2.5, tickSize=9, labelFont=FONT, labelFontSize=19.5,
                        labelColor="black", labelPadding=5, labelOverlap=False, title="GDF-15 pg/ml)",
                        titleFont=FONT, titleFontSize=22, titleFontWeight="normal", titleColor="black",
                        titleX=-81.7, titleY=239, titleAngle=270, titleAlign="center",
                        titleBaseline="alphabetic", offset=-987.7)
c_upper_axis = alt.Axis(orient="left", values=c_upper_ticks, format="d", grid=False, domainColor="black",
                        domainWidth=2.5, tickColor="black", tickWidth=2.5, tickSize=8, labelFont=FONT,
                        labelFontSize=19.5, labelColor="black", labelPadding=6, labelOverlap=False,
                        labelBound=False, title=None, offset=-987.7)
c_x_axis = alt.Axis(orient="bottom", values=c_groups,
                    labelExpr="datum.value == 0 ? '%s' : '%s'" % tuple(c_group_names),
                    grid=False, domainColor="black", domainWidth=2.5, tickColor="black", tickWidth=2.5,
                    tickSize=8, labelFont=FONT, labelFontSize=29, labelColor="black", labelPadding=17,
                    title="Cachexia", titleFont=FONT, titleFontSize=30, titleFontWeight="normal",
                    titleColor="black", titleX=1160.5, titleY=99.3, titleAlign="center",
                    titleBaseline="alphabetic", offset=-1.3)

med = (alt.Chart(med_df).transform_calculate(x1="datum.g - 0.335", x2="datum.g + 0.335")
       .mark_rule(color="red", strokeWidth=3)
       .encode(x=alt.X("x1:Q", scale=C_X, axis=None), x2="x2:Q",
               y=alt.Y("m:Q", scale=C_LO, axis=c_major_axis)))
low = swarm(low_df, "floor(datum.v / (datum.g == 0 ? 300 : 350))").mark_square(
    size=20, color="black", opacity=1).encode(
    x=alt.X("xs:Q", scale=C_X, axis=c_x_axis), y=alt.Y("v:Q", scale=C_LO, axis=c_minor_axis))
high = swarm(high_df, "floor(datum.v / 2200)").mark_square(size=20, color="black", opacity=1).encode(
    x=alt.X("xs:Q", scale=C_X, axis=None), y=alt.Y("v:Q", scale=C_UP, axis=c_upper_axis))
sig1 = alt.Chart(sig_h).mark_rule(color="red", strokeWidth=3).encode(
    x=alt.X("a:Q", scale=C_X, axis=None), x2="b:Q", y=alt.Y("y:Q", scale=C_UP, axis=None))
sig2 = alt.Chart(sig_v).mark_rule(color="red", strokeWidth=3).encode(
    x=alt.X("g:Q", scale=C_X, axis=None), y=alt.Y("y:Q", scale=C_UP, axis=None), y2="top:Q")
star_t = alt.Chart(star).mark_text(font=FONT, fontSize=30, fontWeight="bold", color="black",
                                   baseline="alphabetic", align="center", dy=-4).encode(
    x=alt.X("x:Q", scale=C_X, axis=None), y=alt.Y("y:Q", scale=C_UP, axis=None), text="t:N")
b1 = alt.Chart(brk_up).mark_rule(color="black", strokeWidth=2.5).encode(
    x=alt.X("a:Q", scale=C_X, axis=None), x2="b:Q", y=alt.Y("y:Q", scale=C_UP, axis=None))
b2 = alt.Chart(brk_lo).mark_rule(color="black", strokeWidth=2.5).encode(
    x=alt.X("a:Q", scale=C_X, axis=None), x2="b:Q", y=alt.Y("y:Q", scale=C_LO, axis=None))
layers += [med, low, high, sig1, sig2, star_t, b1, b2]

# panel letters
for letter, px, py in [("A", 57, 40), ("B", 469, 39), ("C", 879, 40)]:
    layers.append(alt.Chart(pd.DataFrame({"t": [letter]})).mark_text(
        font=FONT, fontSize=21, fontWeight="bold", color="black", align="left",
        baseline="alphabetic").encode(x=alt.value(px), y=alt.value(py), text="t:N"))

chart = (alt.layer(*layers)
         .resolve_scale(x="independent", y="independent")
         .resolve_axis(x="independent", y="independent")
         .properties(width=1376, height=390, autosize=alt.AutoSizeParams(type="none"),
                     padding={"left": 0, "top": 0, "right": 0, "bottom": 107},
                     background="white")
         .configure_view(strokeWidth=0)
         .configure_axis(grid=False))

chart.save("out.html", embed_options={"renderer": "svg", "actions": False})
